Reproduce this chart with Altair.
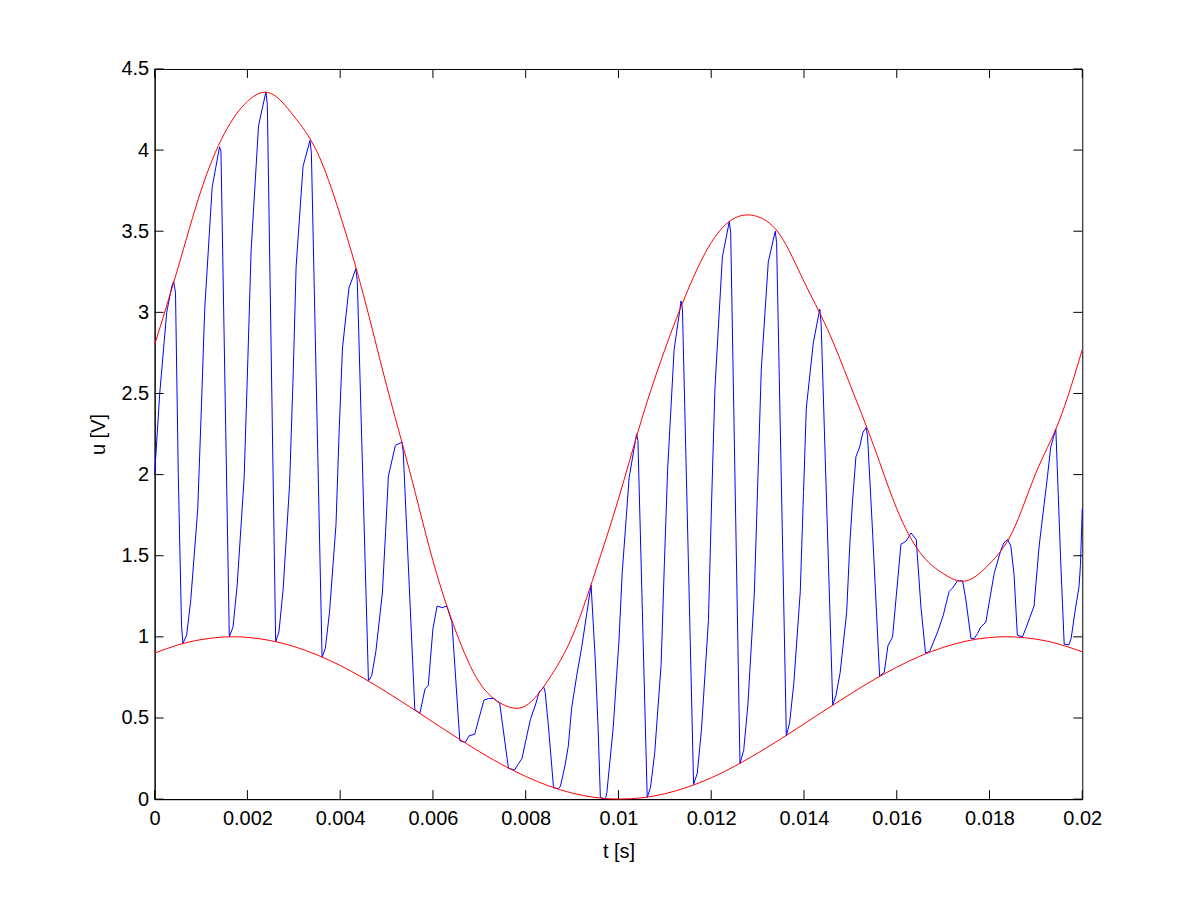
import altair as alt
import pandas as pd

# ---- blue signal, time in seconds ----
t_blue = [
    0.0, 0.00011, 0.00026, 0.00037, 0.00041, 0.00045, 0.00051, 0.00058,
    0.00061, 0.00069, 0.00078, 0.00093, 0.00101, 0.00108, 0.00124, 0.00140, 0.00143,
    0.00161, 0.00169, 0.00178, 0.00193, 0.00201, 0.00208, 0.00224, 0.00240, 0.00243,
    0.00261, 0.00268, 0.00277, 0.00291, 0.00299, 0.00305, 0.00320, 0.00335, 0.00338,
    0.00361, 0.00368, 0.00377, 0.00391, 0.00398, 0.00405, 0.00419, 0.00434, 0.00437,
    0.00461, 0.00468, 0.00477, 0.00491, 0.00498, 0.00504, 0.00519, 0.00533, 0.00536,
    0.00561, 0.00572, 0.00583, 0.00590, 0.00600, 0.00609, 0.00620, 0.00630, 0.00641, 0.00658,
    0.00662, 0.00670, 0.00678, 0.00690, 0.00710, 0.00720, 0.00731, 0.00744, 0.00760,
    0.00763, 0.00776, 0.00785, 0.00792, 0.00810, 0.00821, 0.00829, 0.00839, 0.00842, 0.00849, 0.00856,
    0.00860, 0.00871, 0.00875, 0.00885, 0.00892, 0.00899, 0.00910, 0.00921, 0.00932, 0.00941, 0.00950, 0.00956,
    0.00961, 0.00972, 0.00975, 0.00989, 0.00996, 0.01001, 0.01008, 0.01023, 0.01039, 0.01042,
    0.01062, 0.01069, 0.01078, 0.01092, 0.01099, 0.01106, 0.01120, 0.01135, 0.01138,
    0.01162, 0.01170, 0.01179, 0.01194, 0.01201, 0.01208, 0.01224, 0.01239, 0.01242,
    0.01262, 0.01270, 0.01279, 0.01293, 0.01301, 0.01308, 0.01323, 0.01338, 0.01341,
    0.01362, 0.01369, 0.01378, 0.01392, 0.01399, 0.01405, 0.01420, 0.01434, 0.01437,
    0.01462, 0.01469, 0.01478, 0.01492, 0.01499, 0.01505, 0.01512, 0.01520, 0.01527, 0.01534, 0.01537, 0.01548,
    0.01563, 0.01573, 0.01581, 0.01591, 0.01609, 0.01620, 0.01631, 0.01642, 0.01652,
    0.01662, 0.01671, 0.01688, 0.01700, 0.01713, 0.01720, 0.01731, 0.01742, 0.01749,
    0.01760, 0.01767, 0.01774, 0.01781, 0.01792, 0.01810, 0.01824, 0.01831, 0.01839, 0.01846, 0.01853,
    0.01860, 0.01871, 0.01878, 0.01896, 0.01907, 0.01925, 0.01932, 0.01943, 0.01946, 0.01953,
    0.01961, 0.01971, 0.01976, 0.01984, 0.01993, 0.01996, 0.02000,
]
u_blue = [
    2.00, 2.50, 3.00, 3.16, 3.19, 3.12, 2.00, 1.07,
    0.96, 1.01, 1.23, 1.79, 2.43, 3.02, 3.77, 4.02, 3.99,
    1.00, 1.06, 1.32, 1.98, 2.71, 3.38, 4.15, 4.36, 4.28,
    0.97, 1.03, 1.29, 1.94, 2.64, 3.28, 3.90, 4.06, 3.98,
    0.875, 0.93, 1.15, 1.69, 2.28, 2.78, 3.15, 3.27, 3.19,
    0.73, 0.76, 0.91, 1.27, 1.65, 1.99, 2.18, 2.20, 2.14,
    0.55, 0.53, 0.68, 0.70, 1.05, 1.19, 1.18, 1.19, 1.09, 0.36,
    0.355, 0.35, 0.39, 0.40, 0.61, 0.62, 0.62, 0.59, 0.25,
    0.19, 0.18, 0.22, 0.25, 0.49, 0.58, 0.66, 0.69, 0.66, 0.45, 0.21,
    0.07, 0.065, 0.08, 0.21, 0.33, 0.56, 0.76, 0.94, 1.15, 1.32, 0.86, 0.45,
    0.01, 0.00, 0.04, 0.45, 0.76, 0.97, 1.39, 1.98, 2.25, 2.21,
    0.01, 0.07, 0.28, 0.83, 1.45, 2.03, 2.77, 3.07, 3.02,
    0.09, 0.16, 0.43, 1.10, 1.85, 2.53, 3.34, 3.56, 3.49,
    0.22, 0.30, 0.58, 1.27, 2.01, 2.65, 3.31, 3.50, 3.43,
    0.39, 0.47, 0.71, 1.28, 1.89, 2.41, 2.81, 3.02, 2.93,
    0.58, 0.64, 0.78, 1.15, 1.58, 1.85, 2.11, 2.17, 2.26, 2.29, 2.24, 1.64,
    0.76, 0.78, 0.945, 1.00, 1.57, 1.59, 1.64, 1.60, 1.19,
    0.90, 0.91, 1.03, 1.13, 1.28, 1.30, 1.345, 1.345, 1.23,
    0.99, 0.99, 1.02, 1.06, 1.09, 1.39, 1.53, 1.58, 1.60, 1.56, 1.38,
    1.01, 1.00, 1.05, 1.19, 1.56, 1.99, 2.17, 2.28, 2.05, 1.50,
    0.955, 0.95, 0.99, 1.15, 1.31, 1.44, 1.79,
]

# ---- red envelopes ----
t_env = [
    0.0, 0.0005, 0.001, 0.0015, 0.002, 0.0025, 0.003, 0.0035, 0.004, 0.0045,
    0.005, 0.0055, 0.006, 0.0065, 0.007, 0.0075, 0.008, 0.0085, 0.009, 0.0095,
    0.010, 0.0105, 0.011, 0.0115, 0.012, 0.0125, 0.013, 0.0135, 0.014, 0.0145,
    0.015, 0.0155, 0.016, 0.0165, 0.017, 0.0175, 0.018, 0.0185, 0.019, 0.0195, 0.020,
]
u_upper = [
    2.80, 3.27, 3.75, 4.10, 4.30, 4.35, 4.21, 3.99, 3.60, 3.11,
    2.55, 2.02, 1.47, 1.03, 0.72, 0.585, 0.575, 0.74, 1.00, 1.40,
    1.85, 2.34, 2.77, 3.14, 3.43, 3.58, 3.59, 3.47, 3.19, 2.90,
    2.55, 2.18, 1.79, 1.52, 1.39, 1.345, 1.45, 1.65, 2.01, 2.33, 2.77,
]
u_lower = [
    0.900, 0.950, 0.983, 0.999, 0.997, 0.977, 0.941, 0.889, 0.824, 0.746,
    0.660, 0.569, 0.475, 0.382, 0.293, 0.211, 0.140, 0.081, 0.037, 0.010,
    0.000, 0.008, 0.033, 0.075, 0.131, 0.202, 0.283, 0.371, 0.463, 0.557,
    0.648, 0.735, 0.813, 0.881, 0.935, 0.974, 0.996, 1.000, 0.986, 0.955, 0.908,
]

x_ticks = [0, 0.002, 0.004, 0.006, 0.008, 0.01, 0.012, 0.014, 0.016, 0.018, 0.02]
y_ticks = [0, 0.5, 1, 1.5, 2, 2.5, 3, 3.5, 4, 4.5]

assert len(t_blue) == len(u_blue)

W, H = 930, 732
FONT = "Liberation Sans"

df_blue = pd.DataFrame({"t": t_blue, "u": u_blue})
df_env = pd.DataFrame({"t": t_env, "upper": u_upper, "lower": u_lower})
df_xt = pd.DataFrame({"v": x_ticks})
df_yt = pd.DataFrame({"v": y_ticks})

xscale = alt.Scale(domain=[0, 0.02], nice=False, zero=False)
yscale = alt.Scale(domain=[0, 4.5], nice=False, zero=False)

x_axis = alt.Axis(values=x_ticks, format=".3~f", title="t [s]", tickSize=0,
                  labelFlush=False, labelPadding=9, titlePadding=14, grid=False)
y_axis = alt.Axis(values=y_ticks, format="~g", title="u [V]", tickSize=0,
                  labelFlush=False, labelPadding=6, titlePadding=12, grid=False)

blue = alt.Chart(df_blue).mark_line(color="#0000ff", strokeWidth=1).encode(
    x=alt.X("t:Q", scale=xscale, axis=x_axis),
    y=alt.Y("u:Q", scale=yscale, axis=y_axis),
)
upper = alt.Chart(df_env).mark_line(color="#ff0000", strokeWidth=1, interpolate="natural").encode(
    x=alt.X("t:Q", scale=xscale), y=alt.Y("upper:Q", scale=yscale)
)
lower = alt.Chart(df_env).mark_line(color="#ff0000", strokeWidth=1, interpolate="natural").encode(
    x=alt.X("t:Q", scale=xscale), y=alt.Y("lower:Q", scale=yscale)
)

TL = 9
xt_bottom = alt.Chart(df_xt).mark_rule(color="black", strokeWidth=1).encode(
    x=alt.X("v:Q", scale=xscale), y=alt.value(H), y2=alt.value(H - TL))
xt_top = alt.Chart(df_xt).mark_rule(color="black", strokeWidth=1).encode(
    x=alt.X("v:Q", scale=xscale), y=alt.value(0), y2=alt.value(TL))
yt_left = alt.Chart(df_yt).mark_rule(color="black", strokeWidth=1).encode(
    y=alt.Y("v:Q", scale=yscale), x=alt.value(0), x2=alt.value(TL))
yt_right = alt.Chart(df_yt).mark_rule(color="black", strokeWidth=1).encode(
    y=alt.Y("v:Q", scale=yscale), x=alt.value(W), x2=alt.value(W - TL))

chart = alt.layer(blue, upper, lower, xt_bottom, xt_top, yt_left, yt_right).properties(
    width=W, height=H,
    autosize=alt.AutoSizeParams(type="none"),
    padding={"left": 147, "top": 60, "right": 110, "bottom": 90},
    background="white",
).configure_view(
    stroke="black", strokeWidth=1
).configure_axis(
    domainColor="black", domainWidth=1, labelColor="black", titleColor="black",
    labelFont=FONT, titleFont=FONT, labelFontSize=20, titleFontSize=20,
    titleFontWeight="normal",
)

chart.save("out.html", embed_options={"renderer": "svg", "actions": False})
